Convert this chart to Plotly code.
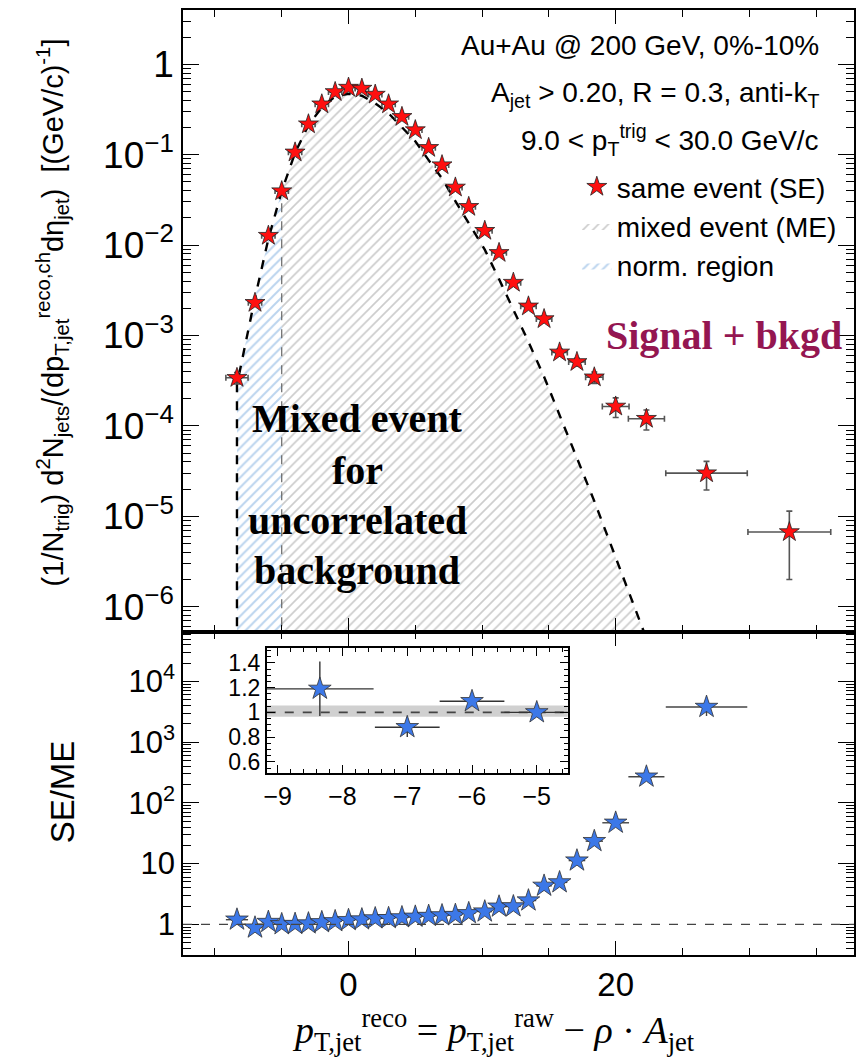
import plotly.graph_objects as go

# ---------------- data ----------------
x_centers = [-8.35, -7, -6, -5, -4, -3, -2, -1, 0, 1, 2, 3, 4, 5, 6, 7, 8, 9,
             10.2, 11.27, 12.34, 13.47, 14.64, 15.8, 17.1, 18.4, 20, 22.3, 26.8, 33.0]
x_err = [0.83, 0.5, 0.5, 0.5, 0.5, 0.5, 0.5, 0.5, 0.5, 0.5, 0.5, 0.5, 0.5, 0.5, 0.5, 0.5, 0.5, 0.5,
         0.55, 0.55, 0.55, 0.58, 0.58, 0.58, 0.62, 0.65, 1.0, 1.35, 3.05, 3.1]
se_vals = [3.4e-4, 2.3e-3, 0.0127, 0.0395, 0.106, 0.217, 0.361, 0.494, 0.552, 0.538, 0.462, 0.361,
           0.262, 0.187, 0.119, 0.0766, 0.0434, 0.0265, 0.0144, 8.2e-3, 3.84e-3, 2.1e-3, 1.52e-3,
           6.5e-4, 5.1e-4, 3.45e-4, 1.64e-4, 1.2e-4, 3.0e-5, 6.7e-6]
se_err = [5e-5, 1e-4, 3e-4, 6e-4, 1e-3, 2e-3, 3e-3, 4e-3, 4e-3, 4e-3, 4e-3, 3e-3, 2e-3, 2e-3, 1.5e-3,
          1e-3, 8e-4, 6e-4, 4e-4, 3e-4, 2e-4, 1.5e-4, 1.2e-4, 6e-5, 5e-5, 5e-5, 4e-5, 3e-5, 1.05e-5, 4.7e-6]

ratio_x = [-8.35, -7, -6, -5, -4, -3, -2, -1, 0, 1, 2, 3, 4, 5, 6, 7, 8, 9,
           10.2, 11.27, 12.34, 13.47, 14.64, 15.8, 17.1, 18.4, 20, 22.3, 26.8]
ratio_vals = [1.19, 0.88, 1.09, 1.0, 1.01, 1.03, 1.08, 1.12, 1.17, 1.2, 1.25, 1.26, 1.3, 1.33, 1.37,
              1.4, 1.42, 1.52, 1.62, 1.95, 1.97, 2.46, 4.3, 4.9, 11.2, 23.4, 47, 270, 3800]
ratio_err = [0.22, 0.08, 0.03, 0.02, 0.02, 0.02, 0.02, 0.02, 0.02, 0.02, 0.02, 0.02, 0.02, 0.02, 0.02,
             0.02, 0.02, 0.03, 0.04, 0.05, 0.06, 0.1, 0.2, 0.3, 0.8, 2.0, 5.0, 40, 1100]

me_x = [-8.35, -7, -6, -5, -4, -3, -2, -1, 0, 1, 2, 3, 4, 5, 6, 7, 8, 9,
        10.2, 11.27, 12.34, 13.47, 14.64, 15.8, 17.1, 18.4, 20, 22.3, 26.8]
me_vals = [2.86e-4, 2.61e-3, 0.01165, 0.0395, 0.105, 0.211, 0.334, 0.441, 0.472, 0.448, 0.37, 0.287,
           0.2015, 0.1406, 0.0869, 0.0547, 0.0306, 0.01743, 8.9e-3, 4.2e-3, 1.95e-3, 8.5e-4, 3.5e-4,
           1.33e-4, 4.55e-5, 1.47e-5, 3.5e-6, 4.4e-7, 7.9e-9]
n_norm = 4  # ME bins in the normalisation region (-8.35 ... -5)
floor_val = 1e-10

inset_xr = [-9.17, -4.52]
band_lo, band_hi = 0.965, 1.055

top_tickvals = [1, 0.1, 0.01, 1e-3, 1e-4, 1e-5, 1e-6]
top_ticktext = ["1", "10<sup>\u22121</sup>", "10<sup>\u22122</sup>", "10<sup>\u22123</sup>",
                "10<sup>\u22124</sup>", "10<sup>\u22125</sup>", "10<sup>\u22126</sup>"]
bot_tickvals = [1, 10, 100, 1000, 10000]
bot_ticktext = ["1", "10", "10<sup>2</sup>", "10<sup>3</sup>", "10<sup>4</sup>"]
inset_xticks = [-9, -8, -7, -6, -5]
inset_xticktext = ["\u22129", "\u22128", "\u22127", "\u22126", "\u22125"]
inset_yticks = [0.6, 0.8, 1.0, 1.2, 1.4]
inset_yticktext = ["0.6", "0.8", "1", "1.2", "1.4"]

SANS = "Liberation Sans, Arial, Helvetica"
SERIF = "Liberation Serif, Times New Roman, serif"

fig = go.Figure()

# norm region (blue hatch)
fig.add_trace(go.Scatter(
    x=me_x[:n_norm] + [me_x[n_norm - 1], me_x[0]],
    y=me_vals[:n_norm] + [floor_val, floor_val],
    fill="toself", mode="lines", line=dict(width=0), fillcolor="rgba(0,0,0,0)",
    fillpattern=dict(shape="/", fgcolor="#78aade", bgcolor="rgba(255,255,255,0)", size=7, solidity=0.28),
    name="norm. region", legendrank=3, xaxis="x", yaxis="y", hoverinfo="skip"))

# mixed event (gray hatch)
fig.add_trace(go.Scatter(
    x=me_x[n_norm - 1:] + [me_x[-1], me_x[n_norm - 1]],
    y=me_vals[n_norm - 1:] + [floor_val, floor_val],
    fill="toself", mode="lines", line=dict(width=0), fillcolor="rgba(0,0,0,0)",
    fillpattern=dict(shape="/", fgcolor="#9a9a9a", bgcolor="rgba(255,255,255,0)", size=7, solidity=0.24),
    name="mixed event (ME)", legendrank=2, xaxis="x", yaxis="y", hoverinfo="skip"))

# vertical boundary of norm. region
fig.add_trace(go.Scatter(
    x=[me_x[n_norm - 1], me_x[n_norm - 1]], y=[floor_val, me_vals[n_norm - 1]],
    mode="lines", line=dict(color="#666666", width=1.2, dash="dash"),
    showlegend=False, xaxis="x", yaxis="y", hoverinfo="skip"))

# ME curve
fig.add_trace(go.Scatter(
    x=[me_x[0]] + me_x, y=[floor_val] + me_vals,
    mode="lines", line=dict(color="black", width=2.4, dash="dash"),
    showlegend=False, xaxis="x", yaxis="y", hoverinfo="skip"))

# same event
fig.add_trace(go.Scatter(
    x=x_centers, y=se_vals, mode="markers",
    marker=dict(symbol="star", size=15, color="#ff1010", line=dict(color="#222222", width=0.8)),
    error_x=dict(type="data", array=x_err, color="#555555", thickness=1.6, width=3),
    error_y=dict(type="data", array=se_err, color="#555555", thickness=1.6, width=3),
    name="same event (SE)", legendrank=1, xaxis="x", yaxis="y"))

# ratio
fig.add_trace(go.Scatter(
    x=ratio_x, y=ratio_vals, mode="markers",
    marker=dict(symbol="star", size=17, color="#3c78e8", line=dict(color="#333333", width=0.8)),
    error_x=dict(type="data", array=x_err[:len(ratio_x)], color="#444444", thickness=1.4, width=0),
    error_y=dict(type="data", array=ratio_err, color="#444444", thickness=1.4, width=0),
    showlegend=False, xaxis="x2", yaxis="y2"))

# inset: normalisation uncertainty band
fig.add_trace(go.Scatter(
    x=[inset_xr[0], inset_xr[1], inset_xr[1], inset_xr[0]],
    y=[band_lo, band_lo, band_hi, band_hi],
    fill="toself", mode="lines", line=dict(width=0), fillcolor="rgba(200,200,200,0.85)",
    showlegend=False, xaxis="x3", yaxis="y3", hoverinfo="skip"))
fig.add_trace(go.Scatter(
    x=inset_xr, y=[1, 1], mode="lines", line=dict(color="#444444", width=1.6, dash="dash"),
    showlegend=False, xaxis="x3", yaxis="y3", hoverinfo="skip"))

# inset ratio
fig.add_trace(go.Scatter(
    x=ratio_x[:4], y=ratio_vals[:4], mode="markers",
    marker=dict(symbol="star", size=17, color="#3c78e8", line=dict(color="#333333", width=0.8)),
    error_x=dict(type="data", array=x_err[:4], color="#333333", thickness=1.4, width=0),
    error_y=dict(type="data", array=ratio_err[:4], color="#333333", thickness=1.4, width=0),
    showlegend=False, xaxis="x3", yaxis="y3"))

# ---------------- layout ----------------
W, H = 857, 1064
ml, mr, mt, mb = 183, 1, 10, 109
split = (955 - 632) / (955 - 10)

axis_common = dict(showline=True, linecolor="black", linewidth=1.6, mirror="allticks",
                   ticks="inside", tickcolor="black", showgrid=False, zeroline=False)

xr = [-12.39, 37.84]
fig.update_layout(
    width=W, height=H, margin=dict(l=ml, r=mr, t=mt, b=mb),
    paper_bgcolor="white", plot_bgcolor="white",
    font=dict(family=SANS, color="black"),
    xaxis=dict(domain=[0, 1], anchor="y", range=xr, showticklabels=False, tick0=0, dtick=20,
               ticklen=14, minor=dict(ticks="inside", dtick=5, ticklen=7, tickcolor="black"),
               **axis_common),
    yaxis=dict(domain=[split, 1], anchor="x", type="log", range=[-6.28, 0.6],
               tickvals=top_tickvals, ticktext=top_ticktext, ticklen=16,
               tickfont=dict(size=37, family=SANS),
               minor=dict(ticks="inside", dtick="D1", ticklen=8, tickcolor="black"),
               **axis_common),
    xaxis2=dict(domain=[0, 1], anchor="y2", range=xr, tick0=0, dtick=20, ticklen=14,
                tickvals=[0, 20], ticktext=["0", "20"], tickfont=dict(size=33, family=SANS),
                minor=dict(ticks="inside", dtick=5, ticklen=7, tickcolor="black"),
                **axis_common),
    yaxis2=dict(domain=[0, split], anchor="x2", type="log", range=[-0.506, 4.815],
                tickvals=bot_tickvals, ticktext=bot_ticktext, ticklen=16,
                tickfont=dict(size=31, family=SANS),
                minor=dict(ticks="inside", dtick="D1", ticklen=8, tickcolor="black"),
                **axis_common),
    xaxis3=dict(domain=[(267 - ml) / 673, (569 - ml) / 673], anchor="y3", range=inset_xr,
                tickvals=inset_xticks, ticktext=inset_xticktext,
                tickfont=dict(size=25, family=SANS), ticklen=8,
                minor=dict(ticks="inside", dtick=0.2, ticklen=4, tickcolor="black"),
                **axis_common),
    yaxis3=dict(domain=[(955 - 773) / 945, (955 - 648) / 945], anchor="x3", range=[0.51, 1.52],
                tickvals=inset_yticks, ticktext=inset_yticktext, tickfont=dict(size=23, family=SANS),
                ticklen=8, minor=dict(ticks="inside", dtick=0.05, ticklen=4, tickcolor="black"),
                **axis_common),
    legend=dict(x=(578 - 183) / 673, y=(955 - 162) / 945, xanchor="left", yanchor="top",
                bgcolor="rgba(0,0,0,0)", font=dict(size=28, family=SANS), itemwidth=30,
                tracegroupgap=0),
    showlegend=True,
)

# reference line in the ratio panel
fig.add_shape(type="line", xref="x2 domain", yref="y2", x0=0, x1=1, y0=1, y1=1,
              line=dict(color="#444444", width=1.3, dash="dash"))


def px(xp):
    return (xp - ml) / 673


def py(yp):
    return (955 - yp) / 945


def ann(text, x, y, size, family=SANS, color="black", xanchor="center", angle=0, bold=False):
    if bold:
        text = "<b>" + text + "</b>"
    fig.add_annotation(text=text, x=px(x), y=py(y), xref="paper", yref="paper", showarrow=False,
                       xanchor=xanchor, yanchor="middle", textangle=angle,
                       font=dict(size=size, family=family, color=color))


ann("Au+Au @ 200 GeV, 0%-10%", 823, 45, 28, xanchor="right")
ann("A<sub>jet</sub> > 0.20, R = 0.3, anti-k<sub>T</sub>", 823, 94, 28, xanchor="right")
ann("9.0 < p<sub>T</sub><sup>trig</sup> < 30.0 GeV/c", 823, 140, 28, xanchor="right")

ann("Signal + bkgd", 726, 336, 40, family=SERIF, color="#941651", bold=True)
for txt, yy in [("Mixed event", 418), ("for", 470), ("uncorrelated", 520), ("background", 570)]:
    ann(txt, 358, yy, 40, family=SERIF, bold=True)

ann("(1/N<sub>trig</sub>) d<sup>2</sup>N<sub>jets</sub>/(dp<sub>T,jet</sub><sup>reco,ch</sup>d\u03b7<sub>jet</sub>)  [(GeV/c)<sup>-1</sup>]",
    52, 312, 29, angle=-90)
ann("SE/ME", 62, 792, 33, angle=-90)
ann("<i>p</i><sub>T,jet</sub><sup>reco</sup> = <i>p</i><sub>T,jet</sub><sup>raw</sup> \u2212 <i>\u03c1</i> \u00b7 <i>A</i><sub>jet</sub>",
    494, 1030, 38, family=SERIF)

fig.write_html("out.html")
